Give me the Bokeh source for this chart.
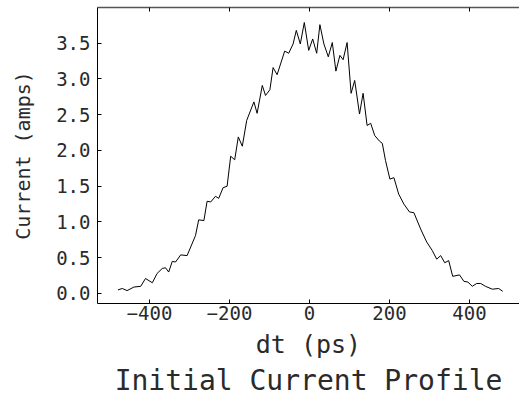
from bokeh.plotting import figure
from bokeh.models import Range1d, FixedTicker, PrintfTickFormatter, LinearAxis
from bokeh.embed import file_html
from bokeh.resources import INLINE

# Data
dt_ps = [-479, -468, -456, -439, -422, -410, -393, -381, -368, -360, -352, -343,
         -335, -322, -306, -297, -285, -277, -264, -256, -247, -235, -227, -216,
         -206, -197, -187, -178, -168, -157, -139, -131, -118, -110, -99, -91,
         -81, -62, -52, -41, -33, -23, -13, -2, 8, 18, 26, 36, 47, 57, 66, 76,
         84, 94, 104, 113, 125, 134, 144, 153, 163, 175, 182, 190, 201, 211,
         223, 236, 250, 261, 278, 293, 307, 318, 328, 338, 348, 358, 375, 386,
         396, 407, 418, 428, 440, 457, 473, 483]
current_amps = [0.05, 0.07, 0.04, 0.09, 0.10, 0.21, 0.15, 0.28, 0.35, 0.36, 0.30, 0.45,
                0.44, 0.54, 0.53, 0.65, 0.81, 1.03, 1.02, 1.29, 1.28, 1.36, 1.33, 1.48,
                1.50, 1.92, 1.87, 2.19, 2.06, 2.42, 2.68, 2.52, 2.91, 2.77, 2.85, 3.16,
                3.06, 3.39, 3.36, 3.49, 3.68, 3.49, 3.79, 3.40, 3.56, 3.36, 3.76, 3.49,
                3.31, 3.51, 3.11, 3.33, 3.27, 3.51, 2.80, 2.98, 2.51, 2.80, 2.35, 2.38,
                2.21, 2.13, 2.10, 1.86, 1.60, 1.62, 1.39, 1.25, 1.14, 1.13, 0.90, 0.72,
                0.60, 0.48, 0.53, 0.43, 0.46, 0.24, 0.26, 0.17, 0.16, 0.10, 0.14, 0.14,
                0.10, 0.06, 0.07, 0.03]
x_ticks = [-400, -200, 0, 200, 400]
y_ticks = [0.0, 0.5, 1.0, 1.5, 2.0, 2.5, 3.0, 3.5]

FONT = "DejaVu Sans Mono"
TXT = "#2a2a2a"

p = figure(width=519, height=399, output_backend="svg", toolbar_location=None,
           x_range=Range1d(-530, 525), y_range=Range1d(-0.14, 4.0),
           x_axis_label="dt (ps)", y_axis_label="Current (amps)",
           title="Initial Current Profile", title_location="below",
           min_border_left=97, min_border_top=7, min_border_right=0,
           min_border_bottom=96)
p.background_fill_color = "white"
p.border_fill_color = "white"
p.outline_line_color = None
p.grid.visible = False

p.line(dt_ps, current_amps, line_color="black", line_width=1.0)

for ax in p.xaxis:
    ax.ticker = FixedTicker(ticks=x_ticks)
for ax in p.yaxis:
    ax.ticker = FixedTicker(ticks=y_ticks)
    ax.formatter = PrintfTickFormatter(format="%.1f")

for ax in p.xaxis + p.yaxis:
    ax.axis_line_color = "black"
    ax.axis_line_width = 1
    ax.major_tick_in = 4
    ax.major_tick_out = 0
    ax.minor_tick_line_color = None
    ax.major_tick_line_color = "black"
    ax.major_label_text_font = FONT
    ax.major_label_text_color = TXT
    ax.axis_label_text_font = FONT
    ax.axis_label_text_font_style = "normal"
    ax.axis_label_text_color = TXT

p.xaxis.major_label_text_font_size = "19px"
p.xaxis.major_label_standoff = 2
p.xaxis.axis_label_text_font_size = "25px"
p.xaxis.axis_label_standoff = 7

p.yaxis.major_label_text_font_size = "19px"
p.yaxis.major_label_standoff = 7
p.yaxis.axis_label_text_font_size = "20px"
p.yaxis.axis_label_standoff = 18

top_axis = LinearAxis(ticker=FixedTicker(ticks=x_ticks),
                      major_label_overrides={t: "" for t in x_ticks},
                      major_tick_in=4, major_tick_out=0, minor_tick_line_color=None,
                      axis_line_color="#555555", axis_line_width=1.5,
                      major_tick_line_color="black")
p.add_layout(top_axis, "above")

p.title.text_font = FONT
p.title.text_font_size = "28px"
p.title.text_font_style = "normal"
p.title.text_color = TXT
p.title.align = "center"
p.title.offset = 0
p.title.standoff = 1

open("out.html", "w").write(file_html(p, INLINE))
